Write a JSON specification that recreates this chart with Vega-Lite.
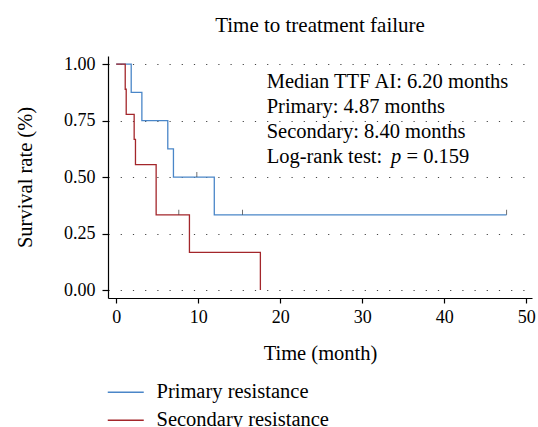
{
  "$schema": "https://vega.github.io/schema/vega-lite/v6.json",
  "width": 424,
  "height": 242,
  "autosize": "none",
  "padding": {"left": 108, "top": 56, "right": 6, "bottom": 129},
  "background": "white",
  "config": {
    "font": "Liberation Serif",
    "view": {"stroke": null}
  },
  "title": {"text": "Time to treatment failure", "font": "Liberation Serif", "fontSize": 21, "fontWeight": "normal", "color": "#000", "anchor": "middle", "offset": 19},
  "datasets": {
    "curves": [
      {"group": "Primary resistance", "time": 0, "surv": 1},
      {"group": "Primary resistance", "time": 1.83, "surv": 0.875},
      {"group": "Primary resistance", "time": 3.13, "surv": 0.75},
      {"group": "Primary resistance", "time": 6.29, "surv": 0.625},
      {"group": "Primary resistance", "time": 6.98, "surv": 0.5},
      {"group": "Primary resistance", "time": 11.96, "surv": 0.3333},
      {"group": "Primary resistance", "time": 47.6, "surv": 0.3333},
      {"group": "Secondary resistance", "time": 0, "surv": 1},
      {"group": "Secondary resistance", "time": 1.1, "surv": 0.8889},
      {"group": "Secondary resistance", "time": 1.22, "surv": 0.7778},
      {"group": "Secondary resistance", "time": 2.19, "surv": 0.6667},
      {"group": "Secondary resistance", "time": 2.35, "surv": 0.5556},
      {"group": "Secondary resistance", "time": 4.87, "surv": 0.3333},
      {"group": "Secondary resistance", "time": 8.93, "surv": 0.1667},
      {"group": "Secondary resistance", "time": 17.58, "surv": 0}
    ],
    "censor": [
      {"group": "Primary resistance", "time": 9.83, "surv": 0.5},
      {"group": "Primary resistance", "time": 15.4, "surv": 0.3333},
      {"group": "Primary resistance", "time": 47.6, "surv": 0.3333},
      {"group": "Secondary resistance", "time": 7.63, "surv": 0.3333}
    ],
    "notes": [
      {"label": "Median TTF AI: 6.20 months", "x": 18.35, "y": 0.922},
      {"label": "Primary: 4.87 months", "x": 18.35, "y": 0.812},
      {"label": "Secondary: 8.40 months", "x": 18.35, "y": 0.701},
      {"label": "Log-rank test:", "x": 18.35, "y": 0.59}
    ],
    "noteP": [
      {"label": "p", "x": 33.5, "y": 0.59}
    ],
    "noteV": [
      {"label": "= 0.159", "x": 35.4, "y": 0.59}
    ]
  },
  "layer": [
    {
      "data": {"name": "curves"},
      "mark": {"type": "line", "interpolate": "step-after", "strokeWidth": 1.3},
      "encoding": {
        "x": {"field": "time", "type": "quantitative", "scale": {"domain": [-1, 50.7], "nice": false, "zero": false},
              "axis": {"title": "Time (month)", "values": [0, 10, 20, 30, 40, 50], "grid": false,
                       "labelFontSize": 18, "titleFontSize": 20.5, "labelFont": "Liberation Serif", "titleFont": "Liberation Serif", "titleFontWeight": "normal",
                       "labelColor": "#000", "titleColor": "#000", "domainColor": "#000", "tickColor": "#000", "tickSize": 5, "domainWidth": 1.2, "tickWidth": 1.2,
                       "labelPadding": 5, "titlePadding": 17}},
        "y": {"field": "surv", "type": "quantitative", "scale": {"domain": [-0.035, 1.036], "nice": false, "zero": false},
              "axis": {"title": "Survival rate (%)", "values": [0, 0.25, 0.5, 0.75, 1], "format": ".2f", "grid": true, "gridDash": [1.2, 11], "gridColor": "#444", "gridWidth": 1,
                       "labelFontSize": 18, "titleFontSize": 20.5, "labelFont": "Liberation Serif", "titleFont": "Liberation Serif", "titleFontWeight": "normal",
                       "labelColor": "#000", "titleColor": "#000", "domainColor": "#000", "tickColor": "#000", "tickSize": 6, "domainWidth": 1.2, "tickWidth": 1.2,
                       "labelPadding": 7, "titlePadding": 28}},
        "color": {"field": "group", "type": "nominal",
                  "scale": {"domain": ["Primary resistance", "Secondary resistance"], "range": ["#4a86c8", "#a3262b"]},
                  "legend": {"title": null, "orient": "none", "legendX": 7.5, "legendY": 326, "symbolType": "M-3,0H3", "symbolSize": 144, "symbolStrokeWidth": 1.3, "labelFontSize": 20.5, "labelFont": "Liberation Serif", "labelColor": "#000", "labelOffset": 20.5, "labelLimit": 400, "rowPadding": 7}}
      }
    },
    {
      "data": {"name": "censor"},
      "mark": {"type": "tick", "orient": "vertical", "size": 5, "thickness": 1, "yOffset": -2.5, "color": "#333"},
      "encoding": {
        "x": {"field": "time", "type": "quantitative"},
        "y": {"field": "surv", "type": "quantitative"}
      }
    },
    {
      "data": {"name": "notes"},
      "mark": {"type": "text", "align": "left", "baseline": "middle", "fontSize": 20.5, "font": "Liberation Serif", "color": "#000"},
      "encoding": {
        "x": {"field": "x", "type": "quantitative"},
        "y": {"field": "y", "type": "quantitative"},
        "text": {"field": "label"}
      }
    },
    {
      "data": {"name": "noteP"},
      "mark": {"type": "text", "align": "left", "baseline": "middle", "fontSize": 20.5, "font": "Liberation Serif", "fontStyle": "italic", "color": "#000"},
      "encoding": {
        "x": {"field": "x", "type": "quantitative"},
        "y": {"field": "y", "type": "quantitative"},
        "text": {"field": "label"}
      }
    },
    {
      "data": {"name": "noteV"},
      "mark": {"type": "text", "align": "left", "baseline": "middle", "fontSize": 20.5, "font": "Liberation Serif", "color": "#000"},
      "encoding": {
        "x": {"field": "x", "type": "quantitative"},
        "y": {"field": "y", "type": "quantitative"},
        "text": {"field": "label"}
      }
    }
  ]
}
